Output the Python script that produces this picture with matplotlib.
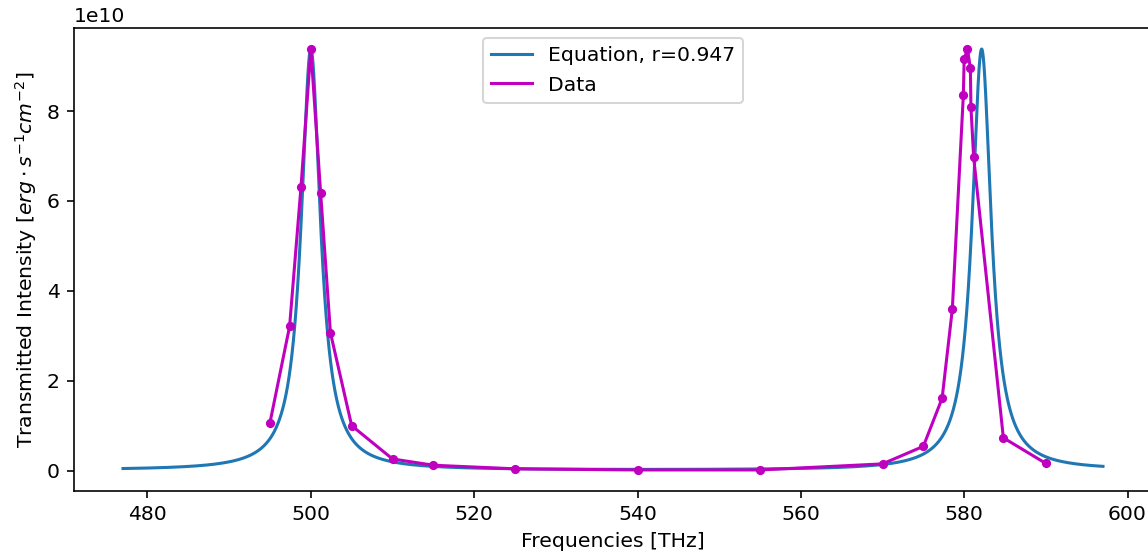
import numpy as np
import matplotlib
matplotlib.use("Agg")
import matplotlib.pyplot as plt

# Data points
data_freq = [495.0, 497.4, 498.8, 500.0, 501.2, 502.4, 505.0, 510.0, 515.0, 525.0,
             540.0, 555.0, 570.0, 575.0, 577.3, 578.55, 579.9, 580.0, 580.4, 580.76,
             580.83, 581.16, 584.8, 590.0]
data_intensity = [1.07e10, 3.21e10, 6.32e10, 9.38e10, 6.18e10, 3.07e10, 1.0e10, 0.26e10,
                  0.12e10, 0.04e10, 0.015e10, 0.015e10, 0.15e10, 0.54e10, 1.61e10,
                  3.59e10, 8.36e10, 9.16e10, 9.38e10, 8.96e10, 8.08e10, 6.98e10,
                  0.73e10, 0.16e10]

# Equation (Fabry-Perot transmission) parameters
r = 0.947
peak_intensity = 9.38e10
first_peak = 500.0
free_spectral_range = 82.14
freq_start, freq_stop = 477.0, 597.0

f = np.linspace(freq_start, freq_stop, 4001)
F = 4 * r**2 / (1 - r**2) ** 2
eq = peak_intensity / (1 + F * np.sin(np.pi * (f - first_peak) / free_spectral_range) ** 2)

DPI = 147
fig = plt.figure(figsize=(1148 / DPI, 555 / DPI), dpi=DPI)
ax = fig.add_axes([74 / 1148, 1 - 491 / 555, (1152 - 74) / 1148, (491 - 28) / 555])
ax.plot(f, eq, color='C0', label='Equation, r=0.947')
ax.plot(data_freq, data_intensity, color='m', label='Data')
ax.plot(data_freq, data_intensity, 'o', color='m', ms=3.5)
ax.set_xlabel('Frequencies [THz]')
ax.set_ylabel(r'Transmitted Intensity [$erg \cdot s^{-1} cm^{-2}$]')
ax.legend(loc='upper center')
fig.savefig('out.png', dpi=DPI)
